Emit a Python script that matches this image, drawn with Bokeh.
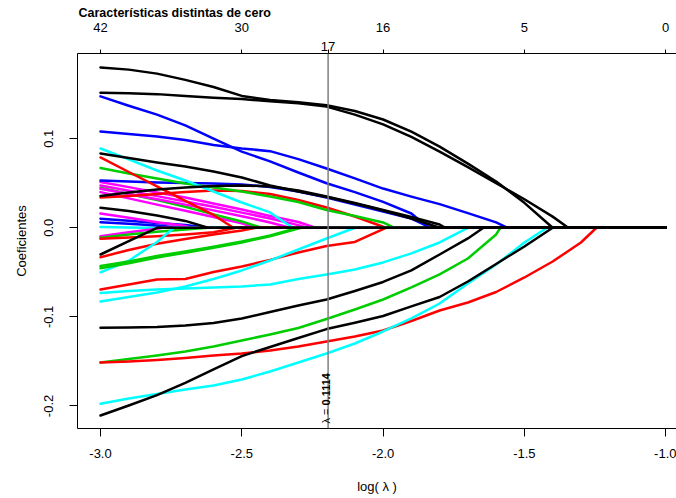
import math

from bokeh.plotting import figure
from bokeh.models import LinearAxis, FixedTicker, NumeralTickFormatter, Span, Label
from bokeh.embed import file_html
from bokeh.resources import INLINE

# Lasso coefficient paths: coefficient value at each log(lambda) of the grid,
# listed until the feature drops out; *_zero is where the path reaches 0.
log_lambda = [-3.0, -2.9, -2.8, -2.7, -2.6, -2.5, -2.4, -2.3, -2.2, -2.1, -2.0,
              -1.9, -1.8, -1.7, -1.6, -1.5, -1.4, -1.3, -1.2, -1.1, -1.0]

best_lambda = 0.1114
features_at_best = 17
df_positions = [-3.0, -2.5, -2.0, -1.5, -1.0]
df_labels = ["42", "30", "16", "5", "0"]
x_ticks = [-3.0, -2.5, -2.0, -1.5, -1.0]
y_ticks = [-0.2, -0.1, 0.0, 0.1]

BLACK, RED, GREEN, BLUE, CYAN, MAGENTA = "#000000", "#FF0000", "#00CD00", "#0000FF", "#00FFFF", "#FF00FF"

# positive coefficients
coef_k1 = [0.180, 0.1775, 0.173, 0.166, 0.158, 0.148, 0.1435, 0.141, 0.1375, 0.131, 0.1215,
           0.108, 0.091, 0.072, 0.052, 0.028]
zero_k1 = -1.40
coef_k2 = [0.1516, 0.151, 0.150, 0.148, 0.146, 0.1445, 0.142, 0.1398, 0.136, 0.127, 0.116,
           0.102, 0.0855, 0.068, 0.050, 0.032, 0.0125]
zero_k2 = -1.345
coef_ba = [0.1475, 0.137, 0.127, 0.115, 0.100, 0.0855, 0.0745, 0.062, 0.050, 0.040, 0.029, 0.016]
zero_ba = -1.84
coef_bb = [0.108, 0.1053, 0.1025, 0.0985, 0.093, 0.089, 0.086, 0.077, 0.0665, 0.0555, 0.044,
           0.035, 0.0265, 0.0165, 0.006]
zero_bb = -1.56
coef_c1 = [0.089, 0.0767, 0.0643, 0.0531, 0.0407, 0.0284, 0.0172]
zero_c1 = -2.32
coef_k3 = [0.0834, 0.0783, 0.0733, 0.0688, 0.0632, 0.0565, 0.0475, 0.0407, 0.0346, 0.0273,
           0.0194, 0.0104]
zero_k3 = -1.80
coef_r1 = [0.0789, 0.0626, 0.0464, 0.0301, 0.0144]
zero_r1 = -2.53
coef_g1 = [0.0671, 0.0609, 0.0553, 0.0497, 0.0452, 0.0407, 0.0351, 0.029, 0.020, 0.0132, 0.006]
zero_g1 = -1.96
coef_b3 = [0.0531, 0.052, 0.0508, 0.0503, 0.0497, 0.0486, 0.0458, 0.0407, 0.034, 0.0262,
           0.0183, 0.0104]
zero_b3 = -1.83
coef_k4 = [0.0357, 0.0396, 0.043, 0.0452, 0.0469, 0.0475, 0.0464, 0.0419, 0.0351, 0.0278,
           0.0199, 0.0121, 0.0037]
zero_k4 = -1.78
coef_r2 = [0.034, 0.0357, 0.0379, 0.0402, 0.0419, 0.0413, 0.0379, 0.0312, 0.0228, 0.0127]
zero_r2 = -1.99
coef_m1 = [0.0514, 0.0456, 0.0396, 0.034, 0.0273, 0.0205, 0.0132, 0.0065]
zero_m1 = -2.24
coef_m2 = [0.0475, 0.0415, 0.0355, 0.0295, 0.0235, 0.0170, 0.0105, 0.003]
zero_m2 = -2.27
coef_m3 = [0.0438, 0.038, 0.032, 0.026, 0.0195, 0.013, 0.006]
zero_m3 = -2.33
coef_m4 = [0.040, 0.033, 0.026, 0.019, 0.012, 0.005]
zero_m4 = -2.45
coef_g2 = [0.045, 0.038, 0.031, 0.0235, 0.015, 0.007]
zero_g2 = -2.43
coef_k5 = [0.0224, 0.0189, 0.0138, 0.0077]
zero_k5 = -2.62
coef_m5 = [0.016, 0.0112, 0.0063, 0.002]
zero_m5 = -2.68
coef_b4 = [0.0102, 0.0078, 0.0054, 0.003]
zero_b4 = -2.62
coef_b5 = [0.0063, 0.0045, 0.0025]
zero_b5 = -2.72
coef_c2 = [0.0008, 0.0004]
zero_c2 = -2.85

# negative coefficients
coef_mn1 = [-0.0095, -0.005, -0.001]
zero_mn1 = -2.78
coef_gn1 = [-0.0112, -0.0075, -0.0045, -0.002]
zero_gn1 = -2.62
coef_rn1 = [-0.0124, -0.011, -0.0095, -0.0075, -0.005]
zero_rn1 = -2.52
coef_kn1 = [-0.030, -0.015]
zero_kn1 = -2.80
coef_rn2 = [-0.033, -0.025, -0.018, -0.0125, -0.0075, -0.003]
zero_rn2 = -2.45
coef_cn1 = [-0.050, -0.037, -0.016]
zero_cn1 = -2.74
coef_gn2 = [-0.043, -0.0378, -0.0317, -0.0265, -0.0213, -0.0155, -0.0087]
zero_gn2 = -2.30
coef_gn3 = [-0.0455, -0.0398, -0.0335, -0.028, -0.0225, -0.0165, -0.0095, -0.001]
zero_gn3 = -2.29
coef_rn3 = [-0.0693, -0.0637, -0.058, -0.0575, -0.0496, -0.0435, -0.036, -0.0277, -0.0204,
            -0.0159]
zero_rn3 = -1.99
coef_cn2 = [-0.0827, -0.0777, -0.0726, -0.0659, -0.0575, -0.0479, -0.0367, -0.0244, -0.012]
zero_cn2 = -2.10
coef_cn3 = [-0.0732, -0.0709, -0.0692, -0.0681, -0.067, -0.0658, -0.0636, -0.0576, -0.0524,
            -0.0468, -0.0389, -0.0288, -0.0165]
zero_cn3 = -1.70
coef_kn2 = [-0.1122, -0.1119, -0.1113, -0.1097, -0.1068, -0.1018, -0.0945, -0.0872, -0.0805,
            -0.0709, -0.0608, -0.0479, -0.030, -0.012]
zero_kn2 = -1.645
coef_gn4 = [-0.1512, -0.1473, -0.1434, -0.1389, -0.1332, -0.1265, -0.1198, -0.1125, -0.1024,
            -0.0917, -0.0805, -0.0670, -0.0524, -0.0345, -0.0075]
zero_gn4 = -1.585
coef_rn4 = [-0.1512, -0.1501, -0.1484, -0.1461, -0.1434, -0.1411, -0.1378, -0.1333, -0.1277,
            -0.122, -0.1153, -0.1046, -0.0929, -0.0839, -0.0721, -0.0558, -0.0379, -0.0165]
zero_rn4 = -1.245
coef_kn3 = [-0.2107, -0.1995, -0.1878, -0.1741, -0.1588, -0.144, -0.1338, -0.1237, -0.1137,
            -0.1067, -0.099, -0.0883, -0.0777, -0.0603, -0.0406, -0.021]
zero_kn3 = -1.40
coef_cn4 = [-0.1975, -0.1916, -0.1865, -0.1815, -0.177, -0.1703, -0.1613, -0.1512, -0.1411,
            -0.1299, -0.1164, -0.1018, -0.0850, -0.0626, -0.0412, -0.0165]
zero_cn4 = -1.42

# drawing order: coloured paths first, black ones last so the zero line ends up dark
paths = [
    (CYAN, coef_c2, zero_c2), (BLUE, coef_b5, zero_b5), (BLUE, coef_b4, zero_b4),
    (MAGENTA, coef_m5, zero_m5), (MAGENTA, coef_mn1, zero_mn1), (GREEN, coef_gn1, zero_gn1),
    (RED, coef_rn1, zero_rn1), (RED, coef_rn2, zero_rn2), (CYAN, coef_cn1, zero_cn1),
    (GREEN, coef_gn2, zero_gn2), (GREEN, coef_gn3, zero_gn3), (RED, coef_rn3, zero_rn3),
    (CYAN, coef_cn2, zero_cn2), (CYAN, coef_cn3, zero_cn3), (GREEN, coef_gn4, zero_gn4),
    (RED, coef_rn4, zero_rn4), (CYAN, coef_cn4, zero_cn4),
    (MAGENTA, coef_m4, zero_m4), (GREEN, coef_g2, zero_g2), (MAGENTA, coef_m3, zero_m3),
    (MAGENTA, coef_m2, zero_m2), (MAGENTA, coef_m1, zero_m1), (RED, coef_r2, zero_r2),
    (BLUE, coef_b3, zero_b3), (GREEN, coef_g1, zero_g1), (RED, coef_r1, zero_r1),
    (CYAN, coef_c1, zero_c1), (BLUE, coef_bb, zero_bb), (BLUE, coef_ba, zero_ba),
    (BLACK, coef_kn2, zero_kn2), (BLACK, coef_kn3, zero_kn3), (BLACK, coef_k4, zero_k4),
    (BLACK, coef_k3, zero_k3), (BLACK, coef_k2, zero_k2), (BLACK, coef_k1, zero_k1),
    (BLACK, coef_k5, zero_k5), (BLACK, coef_kn1, zero_kn1),
]

FONT = "Liberation Sans"

p = figure(width=676, height=498, output_backend="svg", toolbar_location=None,
           x_range=(-3.0814, -0.9618), y_range=(-0.2253, 0.1956),
           min_border_left=77, min_border_right=0, min_border_top=53, min_border_bottom=70,
           title="Características distintas de cero")
p.outline_line_color = None
p.xgrid.visible = False
p.ygrid.visible = False
p.background_fill_color = "white"
p.border_fill_color = "white"

p.title.align = "left"
p.title.text_font = FONT
p.title.text_font_size = "12.5px"
p.title.text_font_style = "bold"
p.title.text_color = "black"
p.title.standoff = 0
p.title.offset = 1

for color, coefs, zero_at in paths:
    xs = log_lambda[:len(coefs)] + [zero_at, log_lambda[-1]]
    ys = list(coefs) + [0.0, 0.0]
    p.line(xs, ys, line_color=color, line_width=2.5, line_join="round", line_cap="round")

log_best = math.log(best_lambda)
p.add_layout(Span(location=log_best, dimension="height", line_color="#7f7f7f", line_width=1.5))

# bottom axis
xa = p.xaxis[0]
xa.ticker = FixedTicker(ticks=x_ticks)
xa.formatter = NumeralTickFormatter(format="0.0")
xa.major_tick_out = 8
xa.major_tick_in = 0
xa.minor_tick_out = 0
xa.minor_tick_in = 0
xa.major_label_standoff = 12
xa.major_label_text_font = FONT
xa.major_label_text_font_size = "13px"
xa.major_label_text_color = "black"
xa.axis_line_color = "black"
xa.major_tick_line_color = "black"
xa.axis_label = "log( λ )"
xa.axis_label_text_font = FONT
xa.axis_label_text_font_size = "13px"
xa.axis_label_text_font_style = "normal"
xa.axis_label_text_color = "black"
xa.axis_label_standoff = 18

# left axis
ya = p.yaxis[0]
ya.ticker = FixedTicker(ticks=y_ticks)
ya.formatter = NumeralTickFormatter(format="0.0")
ya.major_label_orientation = "vertical"
ya.major_tick_out = 8
ya.major_tick_in = 0
ya.minor_tick_out = 0
ya.minor_tick_in = 0
ya.major_label_standoff = 16
ya.major_label_text_font = FONT
ya.major_label_text_font_size = "13px"
ya.major_label_text_color = "black"
ya.axis_line_color = "black"
ya.major_tick_line_color = "black"
ya.axis_label = "Coeficientes"
ya.axis_label_text_font = FONT
ya.axis_label_text_font_size = "13px"
ya.axis_label_text_font_style = "normal"
ya.axis_label_text_color = "black"
ya.axis_label_standoff = 13

# top axes: the inner one carries the box edge, all ticks and the count at the
# selected lambda; the outer one carries the feature counts of the regular grid
top_ticks = df_positions + [log_best]
inner_labels = {pos: "" for pos in df_positions}
inner_labels[log_best] = str(features_at_best)
ta_inner = LinearAxis(ticker=FixedTicker(ticks=top_ticks), major_label_overrides=inner_labels)
ta_inner.major_tick_out = 4
ta_inner.major_tick_in = 0
ta_inner.minor_tick_out = 0
ta_inner.minor_tick_in = 0
ta_inner.major_label_standoff = -1
ta_inner.major_label_text_font = FONT
ta_inner.major_label_text_font_size = "13px"
ta_inner.major_label_text_color = "black"
ta_inner.axis_line_color = "black"
ta_inner.major_tick_line_color = "black"
p.add_layout(ta_inner, "above")

outer_labels = {pos: lab for pos, lab in zip(df_positions, df_labels)}
ta_outer = LinearAxis(ticker=FixedTicker(ticks=df_positions), major_label_overrides=outer_labels)
ta_outer.major_tick_out = 0
ta_outer.major_tick_in = 0
ta_outer.minor_tick_out = 0
ta_outer.minor_tick_in = 0
ta_outer.major_label_standoff = 7
ta_outer.major_label_text_font = FONT
ta_outer.major_label_text_font_size = "13px"
ta_outer.major_label_text_color = "black"
ta_outer.axis_line_color = None
ta_outer.major_tick_line_color = None
p.add_layout(ta_outer, "above")

# value of the selected lambda, written along the vertical line
p.add_layout(Label(x=log_best, x_units="data", x_offset=-2, y=5, y_units="screen",
                   angle=math.pi / 2, text="λ =", text_align="left",
                   text_baseline="alphabetic", text_font=FONT, text_font_size="11px",
                   text_color="black"))
p.add_layout(Label(x=log_best, x_units="data", x_offset=-2, y=23, y_units="screen",
                   angle=math.pi / 2, text=f"{best_lambda:.4f}", text_align="left",
                   text_baseline="alphabetic", text_font=FONT, text_font_size="11px",
                   text_font_style="bold", text_color="black"))

open("out.html", "w").write(file_html(p, INLINE))
